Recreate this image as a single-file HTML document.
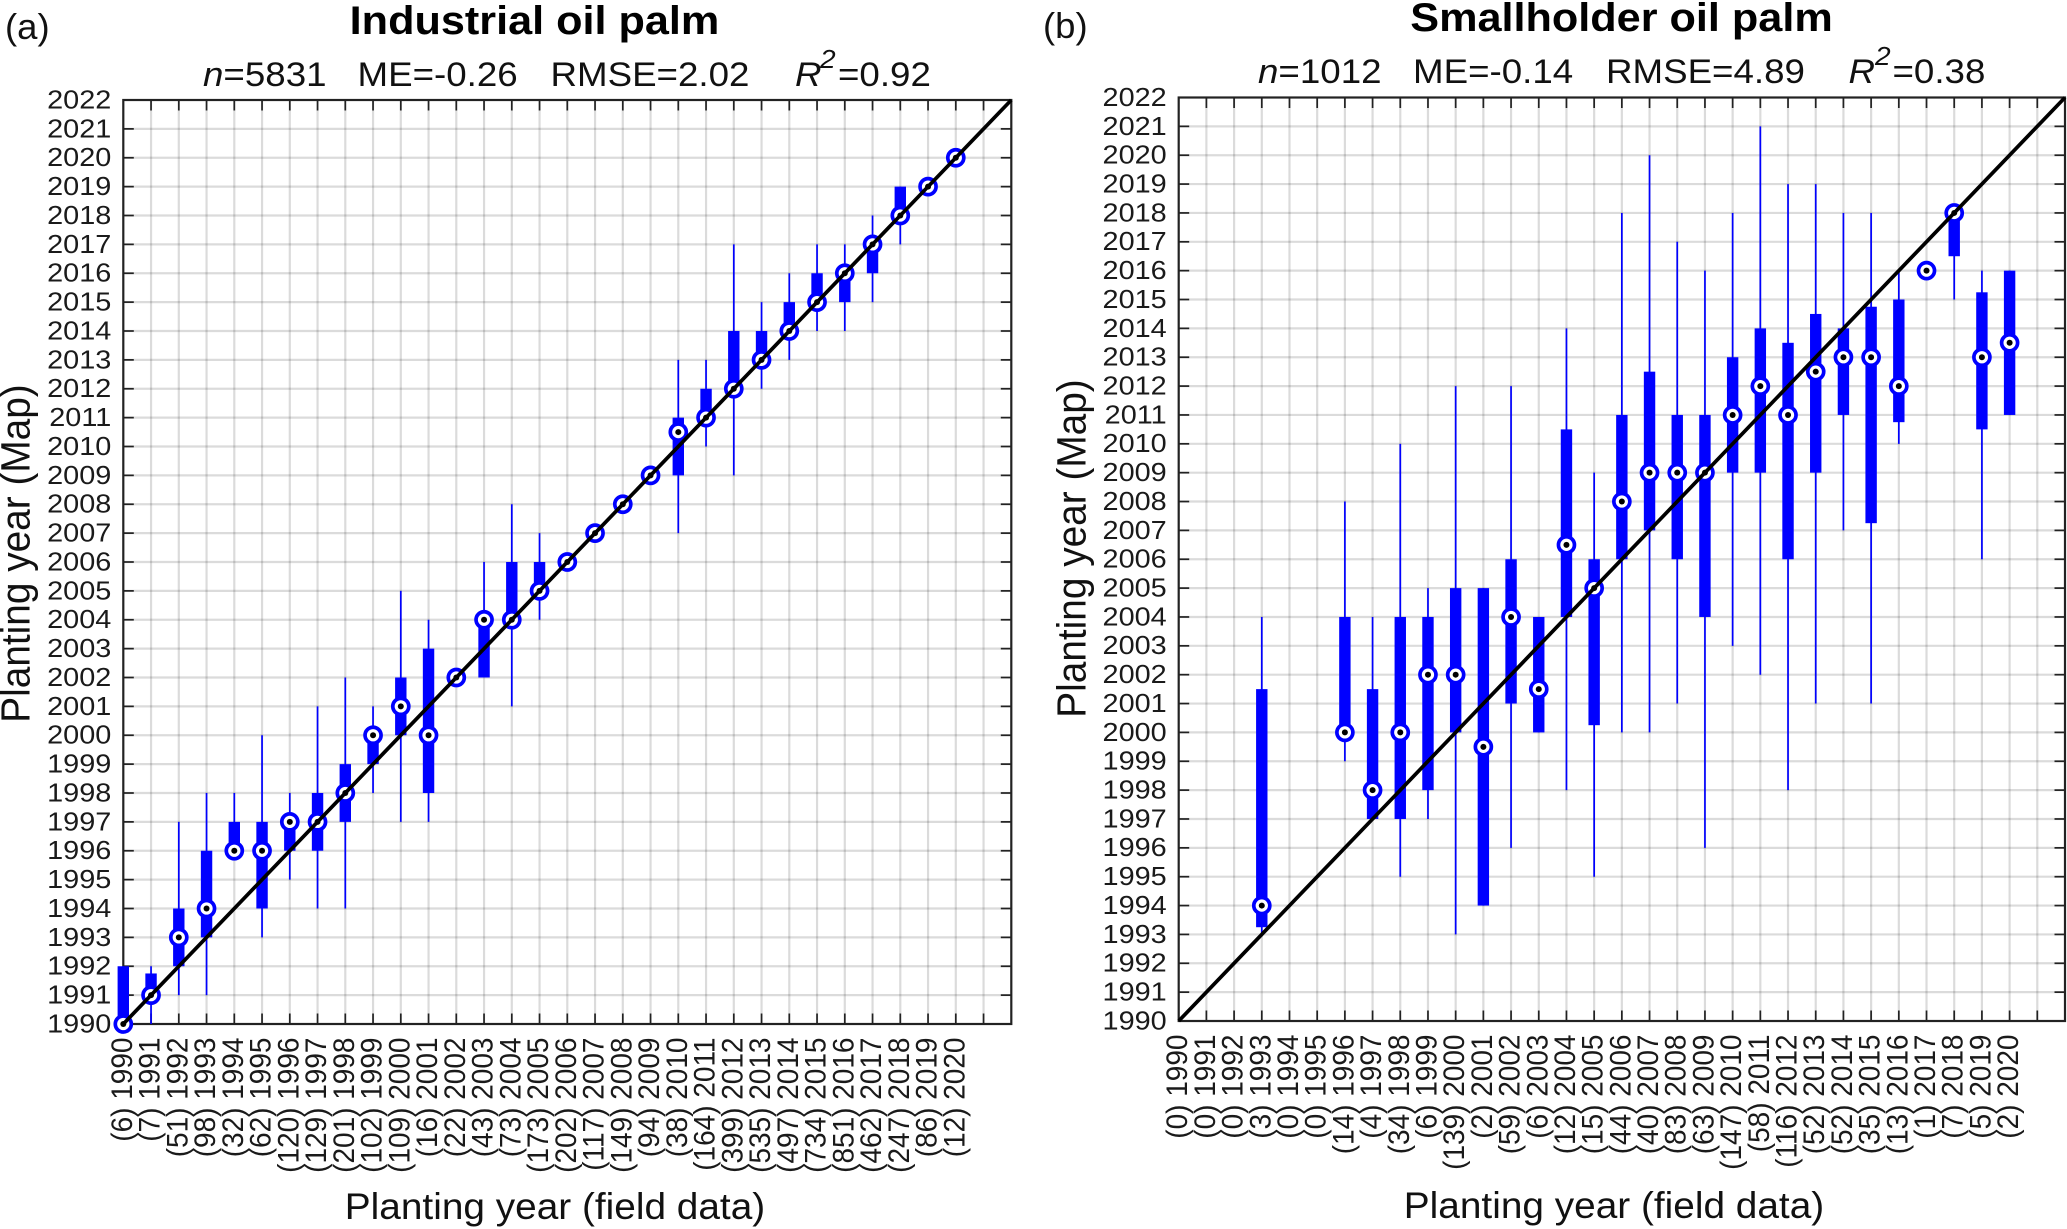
<!DOCTYPE html>
<html lang="en">
<head>
<meta charset="utf-8">
<title>Planting year: map versus field data</title>
<style>
html,body{margin:0;padding:0;background:#fff;width:2067px;height:1229px;overflow:hidden}
svg{display:block;font-family:"Liberation Sans",Arial,sans-serif}
</style>
</head>
<body>
<svg id="figure" xmlns="http://www.w3.org/2000/svg" width="2067" height="1229" viewBox="0 0 2067 1229">
  <rect width="2067" height="1229" fill="#fff"/>

  <g fill="#111">
    <text x="5" y="39" font-size="36.5">(a)</text>
    <text transform="translate(534.5 34) scale(1.075 1)" font-size="40.2" font-weight="bold" text-anchor="middle" fill="#000">Industrial oil palm</text>
    <text transform="translate(203 86) scale(1.08 1)" font-size="34"><tspan font-style="italic">n</tspan>=5831</text>
    <text transform="translate(357.5 86) scale(1.08 1)" font-size="34">ME=-0.26</text>
    <text transform="translate(550.5 86) scale(1.08 1)" font-size="34">RMSE=2.02</text>
    <text transform="translate(795 86) scale(1.08 1)" font-size="34" font-style="italic">R</text>
    <text transform="translate(820 68) scale(1.08 1)" font-size="26" font-style="italic">2</text>
    <text transform="translate(838 86) scale(1.08 1)" font-size="34">=0.92</text>
    <text transform="translate(29.5 553.5) rotate(-90) scale(1 1.05)" font-size="38.8" text-anchor="middle">Planting year (Map)</text>
    <text transform="translate(555 1219) scale(1.06 1)" font-size="36.6" text-anchor="middle">Planting year (field data)</text>
  </g>

  <g fill="#111">
    <text x="1043" y="38" font-size="36.5">(b)</text>
    <text transform="translate(1621.5 31) scale(1.075 1)" font-size="40.2" font-weight="bold" text-anchor="middle" fill="#000">Smallholder oil palm</text>
    <text transform="translate(1258 83) scale(1.08 1)" font-size="34"><tspan font-style="italic">n</tspan>=1012</text>
    <text transform="translate(1413 83) scale(1.08 1)" font-size="34">ME=-0.14</text>
    <text transform="translate(1606 83) scale(1.08 1)" font-size="34">RMSE=4.89</text>
    <text transform="translate(1848.5 83) scale(1.08 1)" font-size="34" font-style="italic">R</text>
    <text transform="translate(1875 65) scale(1.08 1)" font-size="26" font-style="italic">2</text>
    <text transform="translate(1892.5 83) scale(1.08 1)" font-size="34">=0.38</text>
    <text transform="translate(1085.5 548.5) rotate(-90) scale(1 1.05)" font-size="38.8" text-anchor="middle">Planting year (Map)</text>
    <text transform="translate(1614 1218) scale(1.06 1)" font-size="36.6" text-anchor="middle">Planting year (field data)</text>
  </g>

  <g id="panel-a"></g>
  <g id="panel-b"></g>
</svg>

<script>
// Shared tick labels
const yTickLabels = [1990,1991,1992,1993,1994,1995,1996,1997,1998,1999,2000,2001,2002,2003,2004,2005,2006,2007,2008,2009,2010,2011,2012,2013,2014,2015,2016,2017,2018,2019,2020,2021,2022];
const fieldYears = [1990,1991,1992,1993,1994,1995,1996,1997,1998,1999,2000,2001,2002,2003,2004,2005,2006,2007,2008,2009,2010,2011,2012,2013,2014,2015,2016,2017,2018,2019,2020];

// Panel (a): Industrial oil palm
const industrialCounts = [6,7,51,98,32,62,120,129,201,102,109,16,22,43,73,173,202,117,149,94,38,164,399,535,497,734,851,462,247,86,12];
const industrialLow = [1990,1990,1991,1991,1996,1993,1995,1994,1994,1998,1997,1997,2002,2002,2001,2004,2006,2007,2008,2009,2007,2010,2009,2012,2013,2014,2014,2015,2017,2019,2020];
const industrialQ1 = [1990,1991,1992,1993,1996,1994,1996,1996,1997,1999,2000,1998,2002,2002,2004,2005,2006,2007,2008,2009,2009,2011,2012,2013,2014,2015,2015,2016,2018,2019,2020];
const industrialMedian = [1990,1991,1993,1994,1996,1996,1997,1997,1998,2000,2001,2000,2002,2004,2004,2005,2006,2007,2008,2009,2010.5,2011,2012,2013,2014,2015,2016,2017,2018,2019,2020];
const industrialQ3 = [1992,1991.75,1994,1996,1997,1997,1997,1998,1999,2000,2002,2003,2002,2004,2006,2006,2006,2007,2008,2009,2011,2012,2014,2014,2015,2016,2016,2017,2019,2019,2020];
const industrialHigh = [1992,1992,1997,1998,1998,2000,1998,2001,2002,2001,2005,2004,2002,2006,2008,2007,2006,2007,2008,2009,2013,2013,2017,2015,2016,2017,2017,2018,2019,2019,2020];

// Panel (b): Smallholder oil palm (null = no samples that year)
const smallholderCounts = [0,0,0,3,0,0,14,4,34,6,139,2,59,6,12,15,44,40,83,63,147,58,116,52,52,35,13,1,7,5,2];
const smallholderLow = [null,null,null,1993,null,null,1999,1997,1995,1997,1993,1994,1996,2000,1998,1995,2000,2000,2001,1996,2003,2002,1998,2001,2007,2001,2010,2016,2015,2006,2011];
const smallholderQ1 = [null,null,null,1993.25,null,null,2000,1997,1997,1998,2000,1994,2001,2000,2004,2000.25,2006,2007,2006,2004,2009,2009,2006,2009,2011,2007.25,2010.75,2016,2016.5,2010.5,2011];
const smallholderMedian = [null,null,null,1994,null,null,2000,1998,2000,2002,2002,1999.5,2004,2001.5,2006.5,2005,2008,2009,2009,2009,2011,2012,2011,2012.5,2013,2013,2012,2016,2018,2013,2013.5];
const smallholderQ3 = [null,null,null,2001.5,null,null,2004,2001.5,2004,2004,2005,2005,2006,2004,2010.5,2006,2011,2012.5,2011,2011,2013,2014,2013.5,2014.5,2014,2014.75,2015,2016,2018,2015.25,2016];
const smallholderHigh = [null,null,null,2004,null,null,2008,2004,2010,2005,2012,2005,2012,2004,2014,2009,2018,2020,2017,2016,2018,2021,2019,2019,2018,2018,2016,2016,2018,2016,2016];

const SVG_NS = 'http://www.w3.org/2000/svg';
const AXIS_MIN = 1990;
const AXIS_MAX = 2022;

function make(parent, tag, attrs) {
  const el = document.createElementNS(SVG_NS, tag);
  for (const key in attrs) el.setAttribute(key, attrs[key]);
  parent.appendChild(el);
  return el;
}

function drawPanel(rootId, prefix, frame, counts, low, q1, median, q3, high) {
  const root = document.getElementById(rootId);
  const xScale = v => frame.left + (v - AXIS_MIN) / (AXIS_MAX - AXIS_MIN) * (frame.right - frame.left);
  const yScale = v => frame.bottom - (v - AXIS_MIN) / (AXIS_MAX - AXIS_MIN) * (frame.bottom - frame.top);

  // Grid
  const grid = make(root, 'g', {stroke: '#000', 'stroke-opacity': 0.14});
  
  
  yTickLabels.forEach(year => {
    if (year === AXIS_MIN || year === AXIS_MAX) return;
    const hLine = make(grid, 'line', {x1: frame.left, x2: frame.right, y1: yScale(year), y2: yScale(year), 'stroke-width': 2.2});
    
    
    const vLine = make(grid, 'line', {x1: xScale(year), x2: xScale(year), y1: frame.top, y2: frame.bottom, 'stroke-width': 2.2});
    
    
  });

  // Ticks
  const ticks = make(root, 'g', {stroke: '#222', 'stroke-width': 1.7});
  
  
  const tickLen = 10.5;
  yTickLabels.forEach(year => {
    if (year === AXIS_MIN || year === AXIS_MAX) return;
    const y = yScale(year), x = xScale(year);
    const tickLeft = make(ticks, 'line', {x1: frame.left, x2: frame.left + tickLen, y1: y, y2: y});
    
    
    const tickRight = make(ticks, 'line', {x1: frame.right - tickLen, x2: frame.right, y1: y, y2: y});
    
    
    const tickBottom = make(ticks, 'line', {x1: x, x2: x, y1: frame.bottom - tickLen, y2: frame.bottom});
    
    
    const tickTop = make(ticks, 'line', {x1: x, x2: x, y1: frame.top, y2: frame.top + tickLen});
    
    
  });

  // Axis frame
  const axisFrame = make(root, 'rect', {x: frame.left, y: frame.top, width: frame.right - frame.left, height: frame.bottom - frame.top, fill: 'none', stroke: '#222', 'stroke-width': 2.2});
  
  

  // Y tick labels (horizontally stretched like the reference)
  yTickLabels.forEach(year => {
    const label = make(root, 'text', {transform: 'translate(' + (frame.left - 12) + ' ' + (yScale(year) + 8.4) + ') scale(1.11 1)', 'font-size': 26, 'text-anchor': 'end', fill: '#1a1a1a'});
    
    
    label.textContent = year;
  });

  // X tick labels: "(count) year", rotated, ending just below the axis
  fieldYears.forEach((year, i) => {
    const x = xScale(year);
    const label = make(root, 'text', {transform: 'translate(' + (x + 8.5) + ' ' + (frame.bottom + 13.5) + ') rotate(-90) scale(1 1.05)', 'font-size': 28, 'text-anchor': 'end', fill: '#1a1a1a'});
    
    
    label.textContent = '(' + counts[i] + ')\u00A0' + year;
  });

  // Box plot marks
  const marks = make(root, 'g', {});
  
  
  const boxWidth = 11.4;
  fieldYears.forEach((year, i) => {
    if (median[i] === null) return;
    const x = xScale(year);
    const whisker = make(marks, 'line', {x1: x, x2: x, y1: yScale(low[i]), y2: yScale(high[i]), stroke: '#0000ff', 'stroke-width': 1.7});
    
    
    const box = make(marks, 'rect', {x: x - boxWidth / 2, y: yScale(q3[i]), width: boxWidth, height: yScale(q1[i]) - yScale(q3[i]), fill: '#0000ff'});
    
    
  });
  fieldYears.forEach((year, i) => {
    if (median[i] === null) return;
    const x = xScale(year);
    const ring = make(marks, 'circle', {cx: x, cy: yScale(median[i]), r: 8, fill: '#fff', stroke: '#0000ff', 'stroke-width': 3.7});
    
    
    const dot = make(marks, 'circle', {cx: x, cy: yScale(median[i]), r: 3, fill: '#000'});
    
    
  });

  // 1:1 reference line
  const oneToOne = make(root, 'line', {x1: xScale(AXIS_MIN), y1: yScale(AXIS_MIN), x2: xScale(AXIS_MAX), y2: yScale(AXIS_MAX), stroke: '#000', 'stroke-width': 3.7});
  
  
}

drawPanel('panel-a', 'panel-a', {left: 123.3, right: 1011.3, top: 100, bottom: 1024},
  industrialCounts, industrialLow, industrialQ1, industrialMedian, industrialQ3, industrialHigh);
drawPanel('panel-b', 'panel-b', {left: 1178.7, right: 2065, top: 97.5, bottom: 1021},
  smallholderCounts, smallholderLow, smallholderQ1, smallholderMedian, smallholderQ3, smallholderHigh);
</script>
</body>
</html>
